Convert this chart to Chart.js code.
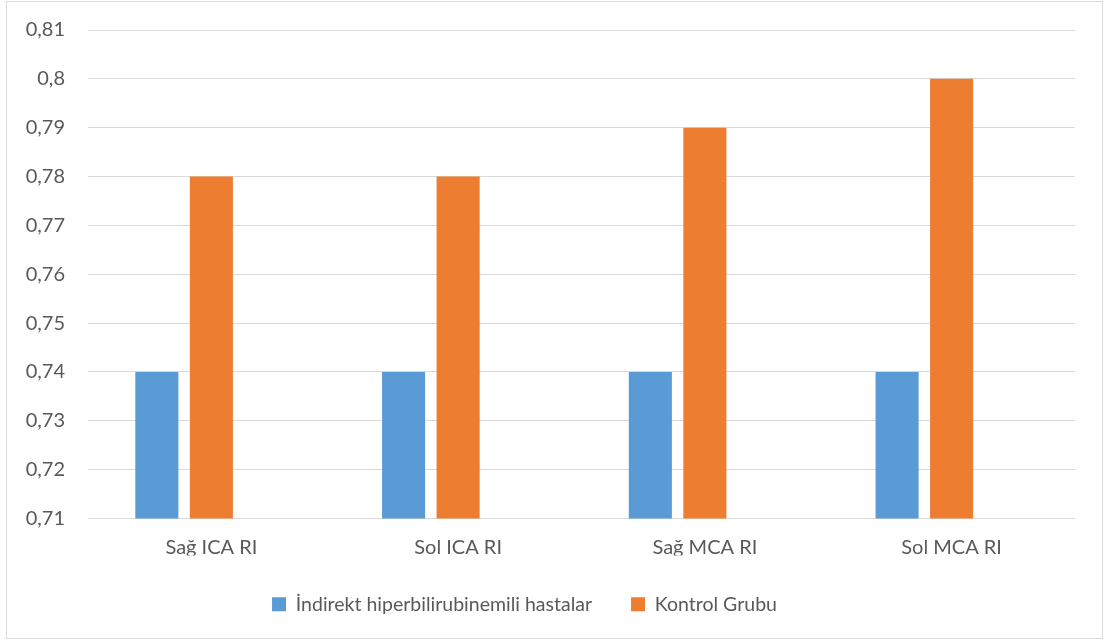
<!DOCTYPE html>
<html>
<head>
<meta charset="utf-8">
<script src="https://cdn.jsdelivr.net/npm/chart.js@4"></script>
<style>
  html, body { margin: 0; padding: 0; background: #fff; }
  #wrap { position: relative; width: 1105px; height: 643px; }
  #frame { position: absolute; left: 6px; top: 1px; width: 1097px; height: 638px; border: 1px solid #d9d9d9; box-sizing: border-box; pointer-events: none; }
  canvas { display: block; }
</style>
</head>
<body>
<div id="wrap">
  <canvas id="c" width="1105" height="643"></canvas>
  <div id="frame"></div>
</div>
<script>
const categories = ['Sağ ICA RI', 'Sol ICA RI', 'Sağ MCA RI', 'Sol MCA RI'];
const seriesNames = ['İndirekt hiperbilirubinemili hastalar', 'Kontrol Grubu'];
const patientValues = [0.74, 0.74, 0.74, 0.74];
const controlValues = [0.78, 0.78, 0.79, 0.80];
const emptySeries = [null, null, null, null];
const yTicks = [0.71, 0.72, 0.73, 0.74, 0.75, 0.76, 0.77, 0.78, 0.79, 0.80, 0.81];

const fontFamily = 'Lato, "Open Sans", sans-serif';
const textColor = '#595959';

const legendShift = {
  id: 'legendShift',
  afterLayout(chart) {
    if (chart.legend) { chart.legend.left -= 16; chart.legend.right -= 16; }
  }
};

new Chart(document.getElementById('c'), {
  type: 'bar',
  data: {
    labels: categories,
    datasets: [
      { label: seriesNames[0], data: patientValues, backgroundColor: '#5B9BD5', categoryPercentage: 0.663, barPercentage: 0.79 },
      { label: seriesNames[1], data: controlValues, backgroundColor: '#ED7D31', categoryPercentage: 0.663, barPercentage: 0.79 },
      { label: '', data: emptySeries, backgroundColor: 'rgba(0,0,0,0)', categoryPercentage: 0.663, barPercentage: 0.79 }
    ]
  },
  plugins: [legendShift],
  options: {
    responsive: false,
    animation: false,
    devicePixelRatio: 1,
    layout: { padding: { left: 6, right: 30, top: 30, bottom: 19 } },
    scales: {
      x: {
        grid: { display: false, drawTicks: false },
        border: { display: false },
        afterFit: (axis) => { axis.height = 37; axis.paddingLeft = 0; axis.paddingRight = 0; },
        ticks: { color: textColor, font: { family: fontFamily, size: 20 }, padding: 17 }
      },
      y: {
        min: 0.71, max: 0.81,
        afterBuildTicks: (axis) => { axis.ticks = yTicks.map(v => ({ value: v })); },
        afterFit: (axis) => { axis.width = 82; axis.paddingTop = 0; axis.paddingBottom = 0; },
        grid: { color: '#d9d9d9', lineWidth: 1, drawTicks: false },
        border: { display: false },
        ticks: {
          color: textColor, font: { family: fontFamily, size: 20 }, padding: 23,
          callback: (v) => String(Number(Number(v).toFixed(2))).replace('.', ',')
        }
      }
    },
    plugins: {
      legend: {
        position: 'bottom',
        labels: {
          color: textColor, font: { family: fontFamily, size: 19.5 },
          boxWidth: 14, boxHeight: 14, padding: 39,
          filter: (item) => item.text !== ''
        }
      },
      tooltip: { enabled: false }
    }
  }
});
</script>
</body>
</html>
